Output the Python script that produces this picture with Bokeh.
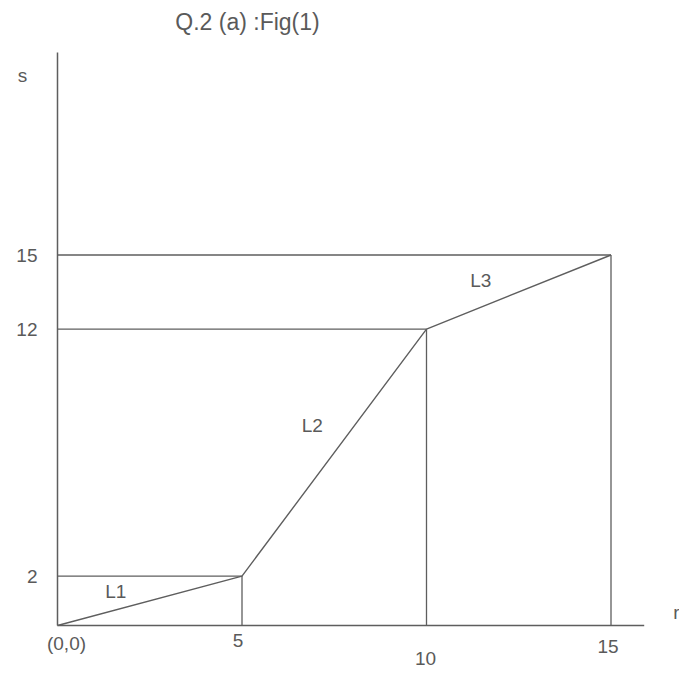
from bokeh.plotting import figure
from bokeh.models import Range1d
from bokeh.core.properties import value
from bokeh.embed import file_html
from bokeh.resources import INLINE

# ---- data ----
r_breaks = [0, 5, 10, 15]          # input levels r
s_breaks = [0, 2, 12, 15]          # output levels s
seg_labels = ["L1", "L2", "L3"]
y_tick_labels = ["2", "12", "15"]
x_tick_labels = ["5", "10", "15"]
title_text = "Q.2 (a) :Fig(1)"
x_name = "r"
y_name = "s"

# ---- styling ----
LINE = "#5e5e5e"
TEXT = "#5a5a5a"
FONT = value("Liberation Sans")
FS = "19px"

W, H = 679, 675
KX, KY = 36.9, 24.7        # pixels per unit
OX, OY = 57, 625           # origin position in the canvas
x_axis_end = 15.9
y_axis_end = 23.2
X0, X1 = -OX / KX, (W - OX) / KX
Y0, Y1 = (OY - H) / KY, OY / KY

p = figure(width=W, height=H, output_backend="svg", toolbar_location=None,
           x_range=Range1d(X0, X1), y_range=Range1d(Y0, Y1),
           x_axis_type=None, y_axis_type=None, min_border=0,
           outline_line_color=None, background_fill_color="white")
p.xgrid.visible = False
p.ygrid.visible = False

# axes
p.segment(x0=[0, 0], y0=[0, 0], x1=[x_axis_end, 0], y1=[0, y_axis_end],
          line_color=LINE, line_width=1.5)

# guide lines
hx0, hy0, hx1, hy1 = [], [], [], []
vx0, vy0, vx1, vy1 = [], [], [], []
for r, s in zip(r_breaks[1:], s_breaks[1:]):
    hx0.append(0); hy0.append(s); hx1.append(r); hy1.append(s)
    vx0.append(r); vy0.append(0); vx1.append(r); vy1.append(s)
p.segment(x0=hx0, y0=hy0, x1=hx1, y1=hy1, line_color=LINE, line_width=1.3)
p.segment(x0=vx0, y0=vy0, x1=vx1, y1=vy1, line_color=LINE, line_width=1.3)

# piecewise-linear transformation
p.line(r_breaks, s_breaks, line_color=LINE, line_width=1.4)

def txt(x, y, t, xo=0, yo=0, align="center", size=FS):
    p.text(x=[x], y=[y], text=[t], x_offset=xo, y_offset=yo,
           text_align=align, text_baseline="middle", text_color=TEXT,
           text_font=FONT, text_font_size=size)

# y tick labels
for s, lab in zip(s_breaks[1:], y_tick_labels):
    txt(0, s, lab, xo=-20, align="right")

# x tick labels (irregular placement as in the sketch)
x_offs = [(-4, 15), (-1, 33), (-3, 21)]
for r, lab, (xo, yo) in zip(r_breaks[1:], x_tick_labels, x_offs):
    txt(r, 0, lab, xo=xo, yo=yo)

txt(0, 0, "(0,0)", xo=9, yo=18)

# segment labels near segment midpoints
l_offs = [(-34, -9), (-22, -27), (-38, -12)]
for i, (lab, (xo, yo)) in enumerate(zip(seg_labels, l_offs)):
    mx = (r_breaks[i] + r_breaks[i + 1]) / 2
    my = (s_breaks[i] + s_breaks[i + 1]) / 2
    txt(mx, my, lab, xo=xo, yo=yo)

# axis names
txt(0, y_axis_end, y_name, xo=-35, yo=23)
txt(X1, 0, x_name, xo=0, yo=-13, align="right")

# title
txt(0, y_axis_end, title_text, xo=190, yo=-30, size="23px")

open("out.html", "w").write(file_html(p, INLINE))
